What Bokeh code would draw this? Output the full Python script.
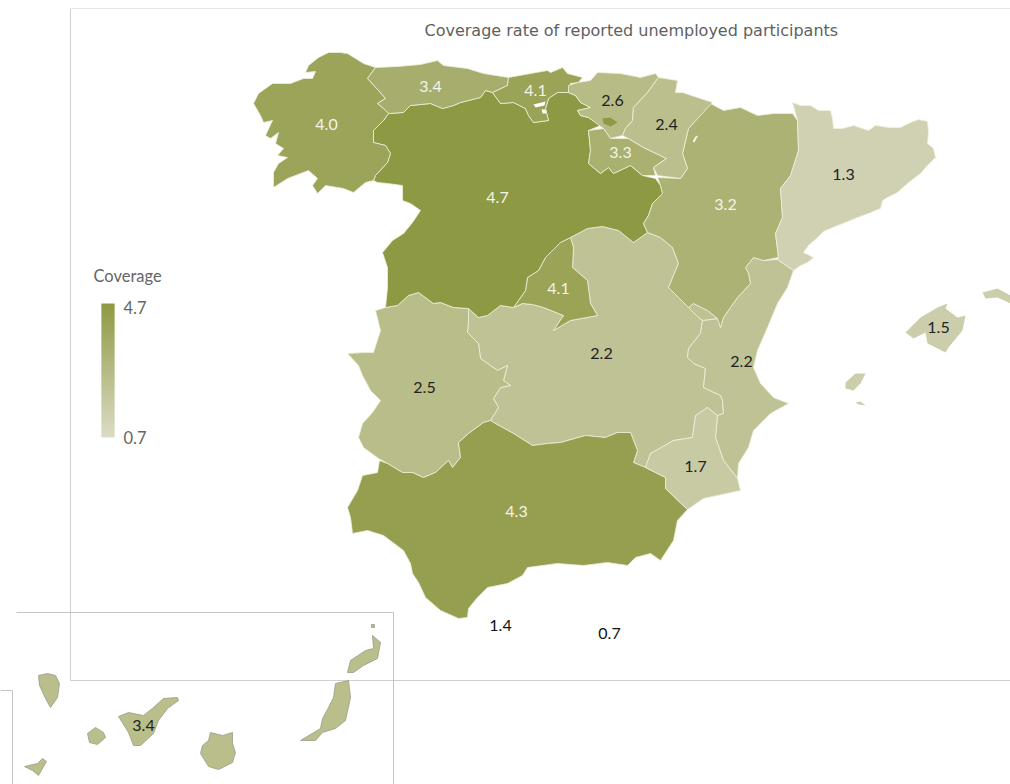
from bokeh.plotting import figure
from bokeh.embed import file_html
from bokeh.resources import INLINE
from bokeh.core.properties import value
from bokeh.models import Range1d

# ---------- chart values ----------
TITLE = "Coverage rate of reported unemployed participants"
LEGEND_TITLE = "Coverage"
VMIN, VMAX = 0.7, 4.7
REGIONS = ["Galicia", "Asturias", "Cantabria", "Pais Vasco", "Navarra", "La Rioja", "Castilla y Leon", "Aragon",
           "Cataluna", "Madrid", "Castilla-La Mancha", "Valencia", "Extremadura", "Baleares", "Murcia", "Andalucia",
           "Ceuta", "Melilla", "Canarias"]
VALUES = [4.0, 3.4, 4.1, 2.6, 2.4, 3.3, 4.7, 3.2, 1.3, 4.1, 2.2, 2.2, 2.5, 1.5, 1.7, 4.3, 1.4, 0.7, 3.4]
LABEL_X = [326, 430, 535, 612, 666, 620, 497, 725, 843, 558, 601, 741, 424, 938, 695, 516, 500, 609, 143]
LABEL_Y = [124, 86, 90, 100, 124, 152, 197, 204, 174, 288, 353, 361, 387, 327, 466, 511, 625, 633, 725]
LABEL_COL = ["#f4f4ea", "#f4f4ea", "#f4f4ea", "#222222", "#222222", "#f4f4ea", "#f4f4ea", "#f4f4ea", "#222222", "#f4f4ea",
             "#222222", "#222222", "#222222", "#222222", "#222222", "#f4f4ea", "#111111", "#111111", "#222222"]
PALETTE_LOW, PALETTE_HIGH = (220, 219, 197), (142, 153, 67)

# ---------- region outlines (map coordinates) ----------
GALICIA = [(375,67),(363,63),(355,58),(347,53),(340,52),(328,52),(318,57),(308,65),(305,72),(315,71),(312,78),(303,78),(290,83),(272,83),(258,93),(253,103),(260,115),(263,122),(272,120),(265,135),(270,138),(278,132),(275,143),(283,148),(277,155),(287,157),(278,163),(273,172),(273,187),(287,178),(308,170),(317,178),(312,185),(317,193),(325,185),(343,188),(353,192),(365,182),(373,180),(375,175),(387,162),(390,153),(385,145),(373,142),(373,130),(383,120),(388,113),(383,108),(377,103),(385,98),(378,90),(367,78)]
ASTURIAS = [(375,67),(397,66),(420,64),(437,60),(443,65),(467,68),(483,73),(508,77),(507,85),(492,92),(485,90),(480,97),(460,102),(453,105),(442,108),(430,103),(410,105),(403,112),(388,113),(383,108),(377,103),(385,98),(378,90),(367,78)]
CANTABRIA = [(508,77),(530,73),(547,70),(550,72),(562,67),(567,73),(582,77),(578,82),(570,83),(568,92),(557,92),(548,98),(545,108),(548,120),(533,122),(528,115),(525,108),(513,102),(500,103),(492,92),(507,85)]
CANTABRIA_GAPS = [[(533,104),(545,101),(544,105),(535,107)], [(541,109),(545,109),(546,113),(542,113)]]
PAIS_VASCO = [(577,82),(590,80),(597,72),(620,73),(640,77),(655,73),(658,77),(647,92),(633,107),(632,120),(625,128),(622,135),(610,138),(603,128),(588,117),(580,115),(577,110),(590,107),(580,102),(575,95),(568,92),(568,85)]
NAVARRA = [(658,77),(677,80),(675,92),(682,92),(712,102),(688,128),(682,153),(687,168),(680,178),(657,175),(653,167),(666,158),(643,147),(628,138),(622,135),(625,128),(632,120),(633,107),(647,92)]
LA_RIOJA = [(588,130),(603,128),(610,138),(628,138),(643,147),(666,158),(653,167),(655,175),(642,175),(630,165),(613,173),(608,167),(600,173),(588,163),(590,150)]
CASTILLA_LEON = [(383,120),(388,113),(403,112),(410,105),(430,103),(442,108),(453,105),(460,102),(480,97),(485,90),(492,92),(500,103),(513,102),(525,108),(528,115),(533,122),(548,120),(545,108),(548,98),(557,92),(568,92),(575,95),(580,102),(590,107),(577,110),(580,115),(588,117),(600,125),(588,130),(590,150),(588,163),(600,173),(608,167),(613,173),(630,165),(642,175),(655,178),(660,185),(662,193),(652,203),(648,215),(643,223),(647,232),(633,242),(618,230),(602,226),(587,228),(570,237),(560,242),(545,257),(538,270),(527,277),(525,290),(513,307),(500,305),(487,315),(478,317),(468,308),(453,307),(440,302),(433,303),(418,292),(408,295),(397,305),(385,307),(387,287),(387,267),(382,252),(392,240),(403,233),(412,222),(420,210),(410,203),(402,200),(402,185),(387,183),(377,182),(373,180),(375,175),(387,162),(390,153),(385,145),(373,142),(373,130)]
TREVINO = [(602,118),(610,117),(617,122),(610,126),(603,123)]
ARAGON = [(710,103),(723,110),(740,107),(757,115),(773,113),(792,113),(797,120),(798,150),(790,175),(780,188),(782,217),(775,233),(778,257),(763,260),(753,257),(745,267),(748,273),(750,283),(737,297),(723,317),(720,327),(717,318),(707,310),(693,303),(688,307),(668,287),(678,263),(672,247),(660,237),(647,232),(643,223),(648,215),(652,203),(662,193),(660,185),(657,177),(680,178),(687,168),(682,153),(688,128)]
ARAGON_GAP = [(692,141),(695,136),(698,135),(696,138),(694,142)]
CATALUNA = [(792,102),(800,105),(810,105),(818,110),(830,110),(832,118),(833,128),(842,128),(853,125),(862,128),(868,130),(875,125),(888,127),(900,127),(910,122),(918,119),(927,121),(928,132),(927,143),(933,148),(935,157),(927,165),(920,173),(908,182),(897,192),(885,198),(882,200),(880,208),(868,213),(857,217),(845,222),(837,225),(823,231),(817,237),(808,245),(803,252),(813,257),(807,262),(800,265),(793,270),(777,259),(778,257),(775,233),(782,217),(780,188),(790,175),(798,150),(797,120)]
MADRID = [(570,237),(573,247),(572,267),(587,280),(590,303),(597,315),(570,320),(553,330),(563,315),(543,307),(532,304),(522,303),(513,307),(525,290),(527,277),(538,270),(545,257),(560,242)]
CASTILLA_MANCHA = [(570,237),(587,228),(602,226),(618,230),(633,242),(647,232),(660,237),(672,247),(678,263),(668,287),(688,307),(697,316),(702,320),(700,333),(688,348),(687,357),(693,363),(705,368),(703,387),(720,395),(722,400),(723,413),(717,415),(707,407),(695,415),(692,437),(673,440),(650,453),(645,467),(633,462),(637,450),(630,432),(617,432),(605,437),(585,435),(560,442),(547,443),(532,445),(513,433),(493,422),(490,420),(498,407),(493,398),(500,387),(510,385),(503,380),(507,365),(497,370),(480,358),(478,343),(467,332),(468,320),(468,308),(478,317),(487,315),(500,305),(513,307),(522,303),(532,304),(543,307),(563,315),(553,330),(570,320),(597,315),(590,303),(587,280),(572,267),(573,247)]
VALENCIA = [(753,257),(763,260),(777,259),(793,270),(787,287),(777,303),(767,327),(757,350),(753,367),(760,383),(773,397),(788,403),(770,413),(753,430),(748,447),(738,463),(737,478),(723,460),(715,437),(717,415),(723,413),(722,400),(720,395),(703,387),(705,368),(693,363),(687,357),(688,348),(700,333),(702,320),(718,318),(720,327),(723,317),(737,297),(750,283),(748,273),(745,267)]
ADEMUZ = [(688,307),(693,303),(707,310),(717,318),(702,320),(697,316)]
EXTREMADURA = [(418,292),(433,303),(440,302),(453,307),(468,308),(468,320),(467,332),(478,343),(480,358),(497,370),(507,365),(503,380),(510,385),(500,387),(493,398),(498,407),(490,420),(483,422),(468,433),(458,442),(460,457),(452,467),(448,460),(435,472),(423,477),(412,472),(402,472),(387,463),(378,458),(363,447),(358,437),(362,423),(372,412),(380,400),(370,390),(362,375),(358,365),(347,353),(363,352),(373,352),(380,330),(375,310),(385,307),(397,305),(408,295)]
ANDALUCIA = [(483,422),(490,420),(493,422),(513,433),(532,445),(547,443),(560,442),(585,435),(605,437),(617,432),(630,432),(637,450),(633,462),(645,467),(665,477),(665,488),(687,509),(677,520),(673,540),(660,560),(650,553),(635,557),(627,565),(607,562),(583,565),(557,563),(527,567),(522,575),(507,583),(487,587),(477,597),(468,608),(467,617),(458,618),(440,610),(425,597),(418,582),(412,573),(410,563),(403,550),(383,535),(367,530),(352,533),(350,517),(347,507),(357,490),(362,475),(377,472),(379,460),(387,463),(402,472),(412,472),(423,477),(435,472),(448,460),(452,467),(460,457),(458,442),(468,433)]
MURCIA = [(707,407),(717,415),(715,437),(723,460),(737,478),(740,490),(717,495),(703,498),(687,509),(665,488),(665,477),(645,467),(650,453),(673,440),(692,437),(695,415)]
MALLORCA = [(905,332),(920,317),(937,307),(947,303),(945,308),(957,317),(965,315),(962,330),(948,347),(945,352),(927,343),(925,332),(913,338)]
MENORCA = [(982,292),(997,288),(1010,295),(1010,303),(997,297),(985,298)]
IBIZA = [(845,382),(855,373),(865,373),(860,383),(853,390),(845,388)]
FORMENTERA = [(855,402),(860,401),(865,405),(858,404)]
LA_PALMA = [(38,675),(47,673),(55,675),(59,683),(57,697),(50,707),(45,698),(39,685)]
LA_GOMERA = [(87,733),(95,727),(103,732),(105,737),(97,744),(89,742)]
EL_HIERRO = [(24,766),(37,763),(42,758),(46,761),(38,775),(32,770)]
TENERIFE = [(118,716),(128,712),(143,715),(153,707),(163,698),(177,697),(178,700),(167,708),(158,720),(153,733),(140,745),(133,745),(128,732)]
GRAN_CANARIA = [(210,732),(222,735),(232,732),(232,743),(235,752),(232,762),(218,769),(208,766),(200,753),(202,745),(208,740)]
FUERTEVENTURA = [(335,683),(348,680),(350,697),(345,720),(335,728),(322,732),(315,740),(300,740),(320,728),(322,718),(328,707),(333,697)]
LANZAROTE = [(347,672),(350,660),(365,650),(373,648),(372,635),(380,642),(377,658),(363,665),(353,672)]
ALEGRANZA = [(371,624),(374,624),(374,627),(371,627)]
# frame lines: x0, y0, x1, y1
FRAME_X0 = [70, 70, 70, 16, 393, 0, 12]
FRAME_Y0 = [8, 8, 680, 612, 612, 690, 690]
FRAME_X1 = [70, 1010, 1010, 393, 393, 12, 12]
FRAME_Y1 = [680, 8, 680, 612, 784, 690, 784]
FRAME_COL = ["#cfcfcf", "#e8e8e8", "#cfcfcf", "#c4c4c4", "#c4c4c4", "#c4c4c4", "#c4c4c4"]

# ---------- figure ----------
p = figure(width=1010, height=784, output_backend="svg", toolbar_location=None,
           x_range=Range1d(0, 1010), y_range=Range1d(784, 0), min_border=0)
p.axis.visible = False
p.grid.visible = False
p.outline_line_color = None
p.background_fill_color = "white"
p.border_fill_color = "white"

N = 256
palette = ["#%02x%02x%02x" % tuple(round(a + (b - a) * i / (N - 1)) for a, b in zip(PALETTE_LOW, PALETTE_HIGH)) for i in range(N)]


def col(v):
    i = min(N - 1, max(0, int((v - VMIN) / (VMAX - VMIN) * N)))
    return palette[i]


def region(name, shapes, edge="#eef0dc", lw=0.8, alpha=1.0):
    v = VALUES[REGIONS.index(name)]
    for s in shapes:
        p.patch([c[0] for c in s], [c[1] for c in s], fill_color=col(v), fill_alpha=alpha, line_color=edge, line_width=lw)


p.segment(FRAME_X0, FRAME_Y0, FRAME_X1, FRAME_Y1, line_color=FRAME_COL, line_width=1)

region("Castilla-La Mancha", [CASTILLA_MANCHA])
region("Extremadura", [EXTREMADURA])
region("Andalucia", [ANDALUCIA])
region("Valencia", [VALENCIA, ADEMUZ])
region("Murcia", [MURCIA])
region("Madrid", [MADRID])
region("Castilla y Leon", [CASTILLA_LEON])
region("Galicia", [GALICIA])
region("Asturias", [ASTURIAS])
region("Cantabria", [CANTABRIA])
for gap in CANTABRIA_GAPS:
    p.patch([c[0] for c in gap], [c[1] for c in gap], fill_color="white", line_color=None)
region("Aragon", [ARAGON])
p.patch([c[0] for c in ARAGON_GAP], [c[1] for c in ARAGON_GAP], fill_color="#f4f4e8", line_color=None)
region("Cataluna", [CATALUNA])
region("Pais Vasco", [PAIS_VASCO])
region("Castilla y Leon", [TREVINO], edge=None)
region("La Rioja", [LA_RIOJA])
region("Navarra", [NAVARRA])
region("Baleares", [MALLORCA, MENORCA, IBIZA, FORMENTERA], edge=None)
region("Canarias", [LA_PALMA, LA_GOMERA, EL_HIERRO, TENERIFE, GRAN_CANARIA, FUERTEVENTURA, LANZAROTE, ALEGRANZA],
       edge="#9a9a8c", lw=0.8, alpha=0.8)

# value labels
p.text(LABEL_X, LABEL_Y, text=[f"{v:.1f}" for v in VALUES], text_color=LABEL_COL, text_font=value("Lato"),
       text_font_size="16px", text_align="center", text_baseline="middle")

# title
p.text([424], [30], text=[TITLE], text_color="#5f5f5f", text_font=value("DejaVu Sans"), text_font_size="16px",
       text_align="left", text_baseline="middle")

# legend
p.text([93], [275], text=[LEGEND_TITLE], text_color="#666666", text_font=value("Lato"), text_font_size="16.5px",
       text_align="left", text_baseline="middle")
top_px, bottom_px = 303, 437
steps = 134
tops = [top_px + (bottom_px - top_px) * i / steps for i in range(steps)]
bots = [t + (bottom_px - top_px) / steps + (0.6 if i < steps - 1 else 0) for i, t in enumerate(tops)]
cols = [col(VMAX - (VMAX - VMIN) * (i + 0.5) / steps) for i in range(steps)]
p.quad(left=[101] * steps, right=[114] * steps, top=tops, bottom=bots, fill_color=cols, line_color=None)
p.text([123, 123], [307, 437], text=[f"{VMAX:.1f}", f"{VMIN:.1f}"], text_color="#666666", text_font=value("Lato"),
       text_font_size="16.5px", text_align="left", text_baseline="middle")

open("out.html", "w").write(file_html(p, INLINE))
